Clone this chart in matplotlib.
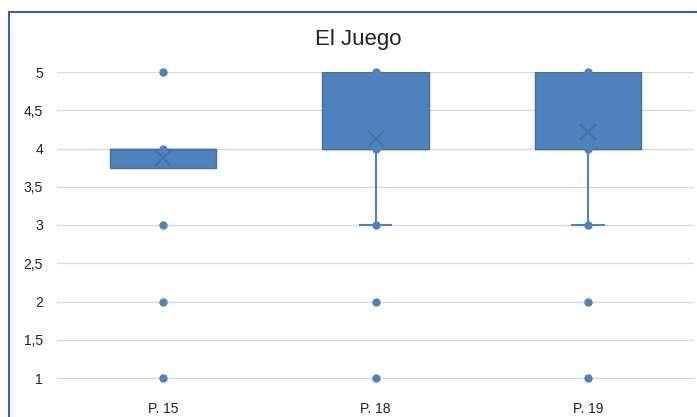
import matplotlib
matplotlib.use('Agg')
import matplotlib.pyplot as plt
from matplotlib.patches import Rectangle

plt.rcParams['font.family'] = ['Liberation Sans Narrow', 'Liberation Sans', 'DejaVu Sans']

categories = ['P. 15', 'P. 18', 'P. 19']
q1 = [3.75, 4.0, 4.0]
med = [4.0, 4.0, 4.0]
q3 = [4.0, 5.0, 5.0]
whisk_lo = [3.75, 3.0, 3.0]
whisk_hi = [4.0, 5.0, 5.0]
means = [3.88, 4.12, 4.22]
points = [[1, 2, 3, 4, 5], [1, 2, 3, 4, 5], [1, 2, 3, 4, 5]]
yticks = [1, 1.5, 2, 2.5, 3, 3.5, 4, 4.5, 5]

fill = '#4F81BD'
edge = '#41719C'

fig = plt.figure(figsize=(6.97, 4.17), dpi=100)
# chart border (cropped at right and bottom)
fig.patches.append(Rectangle((9 / 697, -0.1), 1.2, 1 - 12 / 417 + 0.1,
                             transform=fig.transFigure, fill=False,
                             edgecolor='#3565A8', lw=1.5))
ax = fig.add_axes([57 / 697, 1 - 378 / 417, (694 - 57) / 697, (378 - 72) / 417])

stats = []
for i in range(len(categories)):
    stats.append(dict(q1=q1[i], med=med[i], q3=q3[i], whislo=whisk_lo[i],
                      whishi=whisk_hi[i], fliers=[], label=categories[i]))

pos = list(range(len(categories)))
res = ax.bxp(stats, positions=pos, widths=0.5, patch_artist=True,
             showfliers=False, capwidths=0.15,
             boxprops=dict(facecolor=fill, edgecolor=edge, lw=1),
             medianprops=dict(color=edge, lw=1),
             whiskerprops=dict(color=fill, lw=1.5),
             capprops=dict(color=fill, lw=1.5))
for b in res['boxes']:
    b.set_zorder(3)
for m in res['medians']:
    m.set_zorder(3.1)
# no cap where the whisker ends on the box
for i in range(len(categories)):
    if whisk_lo[i] == q1[i]:
        res['caps'][2 * i].set_visible(False)
    if whisk_hi[i] == q3[i]:
        res['caps'][2 * i + 1].set_visible(False)

for i, pts in enumerate(points):
    ax.plot([pos[i]] * len(pts), pts, 'o', color=fill, ms=5, zorder=4, clip_on=False)
ax.plot(pos, means, 'x', color=edge, ms=11, mew=1.1, zorder=5)

ax.set_xlim(-0.5, 2.5)
ax.set_ylim(1, 5)
ax.set_yticks(yticks)
ax.set_yticklabels([('%g' % v).replace('.', ',') for v in yticks])
ax.set_xticks(pos)
ax.set_xticklabels(categories)
ax.yaxis.grid(True, color='#D9D9D9', lw=1)
ax.set_axisbelow(True)
for s in ['top', 'right', 'left']:
    ax.spines[s].set_visible(False)
ax.spines['bottom'].set_color('#D9D9D9')
ax.tick_params(axis='both', length=0, labelsize=10, colors='#222222')
ax.tick_params(axis='x', pad=17)
ax.tick_params(axis='y', pad=10)

fig.text(358 / 697, 1 - 40 / 417, 'El Juego', ha='center', va='center',
         fontsize=16, color='#222222')

fig.savefig('out.png', dpi=100)
